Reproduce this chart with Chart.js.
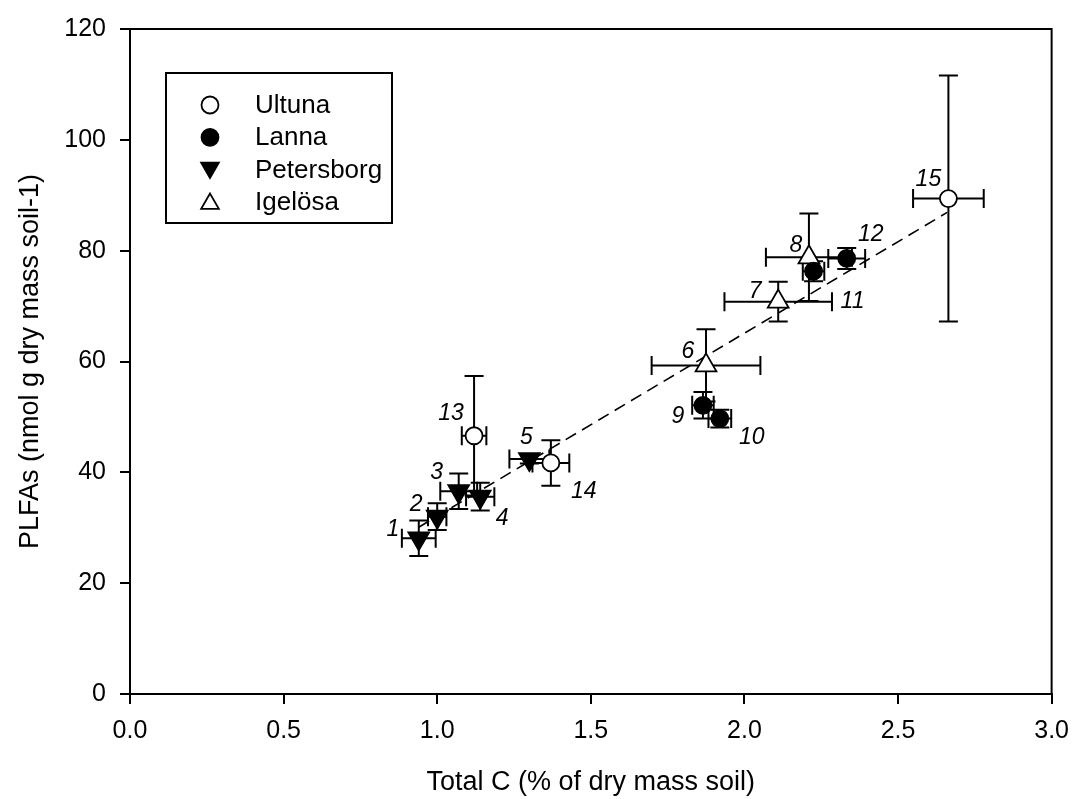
<!DOCTYPE html>
<html>
<head>
<meta charset="utf-8">
<script src="https://cdn.jsdelivr.net/npm/chart.js@4.4.1/dist/chart.umd.min.js"></script>
<style>
  html, body { margin: 0; padding: 0; background: #fff; }
  #wrap { width: 1081px; height: 799px; }
</style>
</head>
<body>
<div id="wrap"><canvas id="chart"></canvas></div>
<script>
// ---------- data ----------
const SITES = ['Ultuna', 'Lanna', 'Petersborg', 'Igelösa'];

const pointNo   = [1, 2, 3, 4, 5, 6, 7, 8, 9, 10, 11, 12, 13, 14, 15];
const pointSite = ['Petersborg', 'Petersborg', 'Petersborg', 'Petersborg', 'Petersborg',
                   'Igelösa', 'Igelösa', 'Igelösa',
                   'Lanna', 'Lanna', 'Lanna', 'Lanna',
                   'Ultuna', 'Ultuna', 'Ultuna'];
const totalC    = [0.94, 1.00, 1.07, 1.14, 1.30, 1.875, 2.11, 2.21, 1.865, 1.92, 2.225, 2.333, 1.12, 1.37, 2.664];
const totalCErr = [0.055, 0.03, 0.06, 0.046, 0.065, 0.177, 0.175, 0.14, 0.035, 0.037, 0.035, 0.06, 0.04, 0.06, 0.115];
const plfa      = [28.1, 32.0, 36.6, 35.6, 42.4, 59.3, 70.8, 78.8, 52.1, 49.7, 76.3, 78.6, 46.6, 41.7, 89.4];
const plfaErr   = [3.2, 2.4, 3.2, 2.5, 0.8, 6.5, 3.6, 7.9, 2.4, 1.6, 1.8, 1.9, 10.8, 4.1, 22.2];

// dashed regression line end points
const regX = [0.94, 2.66];
const regY = [30.1, 86.9];

// ---------- styles ----------
const FONT = "'Liberation Sans', Arial, sans-serif";
const SITE_STYLE = {
  'Ultuna':     { pointStyle: 'circle',   rotation: 0,   fill: '#fff', radius: 8.5 },
  'Lanna':      { pointStyle: 'circle',   rotation: 0,   fill: '#000', radius: 8.5 },
  'Petersborg': { pointStyle: 'triangle', rotation: 180, fill: '#000', radius: 12 },
  'Igelösa':    { pointStyle: 'triangle', rotation: 0,   fill: '#fff', radius: 12 },
};
// label offsets from the point centre, in px
const LABEL_OFFSET = [
  [-26, -9], [-21, -12], [-22, -19], [22, 22], [-3, -21],
  [-18, -14], [-23, -10], [-13, -12],
  [-25, 11], [32, 19], [39, 30], [24, -24],
  [-23, -22], [33, 29], [-20, -19],
];
const CAP = 9.5;

// ---------- plugins ----------
const errorBars = {
  id: 'errorBars',
  beforeDatasetsDraw(chart) {
    const { ctx, scales: { x, y } } = chart;
    ctx.save();
    ctx.strokeStyle = '#000';
    ctx.lineWidth = 2;
    totalC.forEach((c, i) => {
      const px = x.getPixelForValue(c);
      const py = y.getPixelForValue(plfa[i]);
      const x0 = x.getPixelForValue(c - totalCErr[i]);
      const x1 = x.getPixelForValue(c + totalCErr[i]);
      const y0 = y.getPixelForValue(plfa[i] - plfaErr[i]);
      const y1 = y.getPixelForValue(plfa[i] + plfaErr[i]);
      ctx.beginPath();
      ctx.moveTo(x0, py); ctx.lineTo(x1, py);
      ctx.moveTo(x0, py - CAP); ctx.lineTo(x0, py + CAP);
      ctx.moveTo(x1, py - CAP); ctx.lineTo(x1, py + CAP);
      ctx.moveTo(px, y0); ctx.lineTo(px, y1);
      ctx.moveTo(px - CAP, y0); ctx.lineTo(px + CAP, y0);
      ctx.moveTo(px - CAP, y1); ctx.lineTo(px + CAP, y1);
      ctx.stroke();
    });
    ctx.restore();
  }
};

const pointLabels = {
  id: 'pointLabels',
  afterDatasetsDraw(chart) {
    const { ctx, scales: { x, y } } = chart;
    ctx.save();
    ctx.fillStyle = '#000';
    ctx.font = 'italic 23px ' + FONT;
    ctx.textAlign = 'center';
    ctx.textBaseline = 'middle';
    pointNo.forEach((n, i) => {
      const [dx, dy] = LABEL_OFFSET[i];
      ctx.fillText(String(n), x.getPixelForValue(totalC[i]) + dx, y.getPixelForValue(plfa[i]) + dy);
    });
    ctx.restore();
  }
};

function drawMarker(ctx, st, cx, cy) {
  ctx.beginPath();
  if (st.pointStyle === 'circle') {
    ctx.arc(cx, cy, st.radius, 0, Math.PI * 2);
  } else {
    const r = st.radius * 0.85;
    const dir = st.rotation === 180 ? 1 : -1;
    ctx.moveTo(cx, cy + dir * r * 0.75 * 1.1);
    ctx.lineTo(cx - r * 0.866, cy - dir * r * 0.75 * 0.9);
    ctx.lineTo(cx + r * 0.866, cy - dir * r * 0.75 * 0.9);
    ctx.closePath();
  }
  ctx.fillStyle = st.fill;
  ctx.fill();
  ctx.stroke();
}

const frameAndLegend = {
  id: 'frameAndLegend',
  afterDraw(chart) {
    const { ctx, chartArea: a } = chart;
    ctx.save();
    ctx.strokeStyle = '#000';
    ctx.lineWidth = 2;
    ctx.beginPath();
    ctx.moveTo(a.left, a.top); ctx.lineTo(a.right, a.top); ctx.lineTo(a.right, a.bottom);
    ctx.stroke();

    // legend box
    ctx.strokeRect(166, 73, 226, 150);
    ctx.font = '26px ' + FONT;
    ctx.textAlign = 'left';
    ctx.textBaseline = 'middle';
    SITES.forEach((s, k) => {
      const yy = 105 + k * 32.3;
      ctx.lineWidth = 1.8;
      drawMarker(ctx, SITE_STYLE[s], 210, yy);
      ctx.fillStyle = '#000';
      ctx.fillText(s, 255, yy + 1);
    });
    ctx.restore();
  }
};

// ---------- datasets ----------
const datasets = SITES.map(s => {
  const st = SITE_STYLE[s];
  return {
    label: s,
    type: 'scatter',
    data: pointNo.map((n, i) => ({ x: totalC[i], y: plfa[i], site: pointSite[i] }))
                 .filter(p => p.site === s),
    pointStyle: st.pointStyle,
    rotation: st.rotation,
    pointRadius: st.radius,
    pointBackgroundColor: st.fill,
    pointBorderColor: '#000',
    pointBorderWidth: 1.8,
    showLine: false,
    order: 0,
  };
});
datasets.push({
  label: 'fit',
  type: 'line',
  data: regX.map((v, i) => ({ x: v, y: regY[i] })),
  borderColor: '#000',
  borderWidth: 1.6,
  borderDash: [12, 7],
  pointRadius: 0,
  fill: false,
  order: 10,
});

new Chart(document.getElementById('chart'), {
  type: 'scatter',
  data: { datasets },
  options: {
    responsive: true,
    maintainAspectRatio: false,
    animation: false,
    layout: { padding: { top: 23, right: 20, left: 0, bottom: 0 } },
    plugins: {
      legend: { display: false },
      tooltip: { enabled: false },
    },
    scales: {
      x: {
        type: 'linear',
        min: 0, max: 3,
        ticks: {
          stepSize: 0.5,
          color: '#000',
          font: { family: FONT, size: 25 },
          padding: 12,
          callback: v => Number(v).toFixed(1),
        },
        grid: { drawOnChartArea: false, drawTicks: true, tickLength: 10, color: '#000', lineWidth: 2 },
        border: { display: true, color: '#000', width: 2 },
        title: {
          display: true,
          text: 'Total C (% of dry mass soil)',
          color: '#000',
          font: { family: FONT, size: 27 },
          padding: 0,
        },
        afterFit: s => { s.height = 105; },
      },
      y: {
        type: 'linear',
        min: 0, max: 120,
        ticks: {
          stepSize: 20,
          color: '#000',
          font: { family: FONT, size: 25 },
          padding: 14,
        },
        grid: { drawOnChartArea: false, drawTicks: true, tickLength: 10, color: '#000', lineWidth: 2 },
        border: { display: true, color: '#000', width: 2 },
        title: {
          display: true,
          text: 'PLFAs (nmol g dry mass soil-1)',
          color: '#000',
          font: { family: FONT, size: 27 },
          padding: 14,
        },
        afterFit: s => { s.width = 130; },
      },
    },
  },
  plugins: [errorBars, pointLabels, frameAndLegend],
});
</script>
</body>
</html>
